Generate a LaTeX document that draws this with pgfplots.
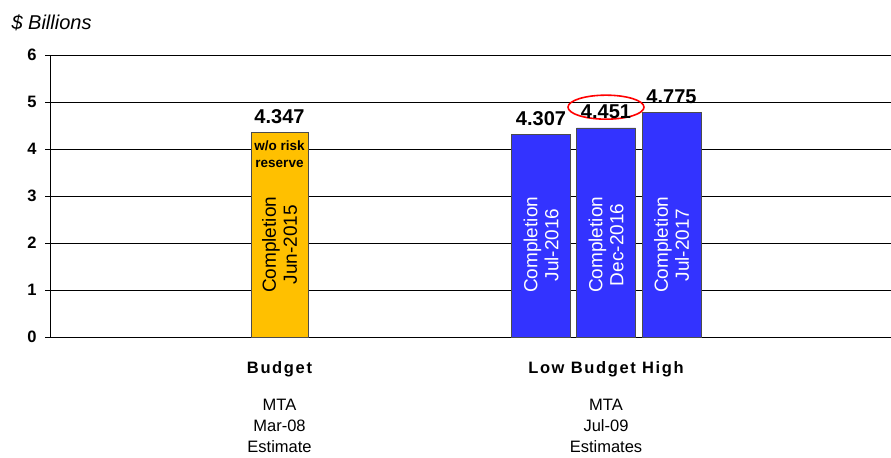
\documentclass[border=0pt]{standalone}
\usepackage{pgfplots}
\pgfplotsset{compat=1.18}
\usepackage{fontspec}
\setmainfont{Liberation Sans}
\definecolor{barorange}{HTML}{FFC000}
\definecolor{barblue}{HTML}{3333FF}
\begin{document}
\begin{tikzpicture}
\path[use as bounding box] (0,0) rectangle (891bp,458bp);
\begin{axis}[
 at={(50bp,121bp)}, anchor=south west,
 scale only axis, width=841bp, height=282bp,
 xmin=0, xmax=841, ymin=0, ymax=6,
 axis x line=bottom, axis y line=left,
 axis line style={-, black, line width=0.9bp},
 ytick={0,1,2,3,4,5,6}, ymajorgrids, grid style={black, line width=0.7bp},
 tick align=outside, major tick length=5bp,
 ytick style={black, line width=0.7bp},
 y tick label style={font=\fontsize{16.5bp}{18bp}\selectfont\bfseries, xshift=-5bp},
 /pgf/number format/assume math mode=true,
 xtick={229.5,556},
 xticklabels={{\bfseries\addfontfeature{LetterSpace=10}Budget\\[16bp]MTA\\Mar-08\\Estimate},
              {\bfseries\addfontfeature{LetterSpace=10}Low Budget High\\[16bp]MTA\\Jul-09\\Estimates}},
 x tick label style={align=center, font=\fontsize{16.5bp}{21bp}\selectfont, yshift=-16bp},
 xtick style={draw=none},
 ybar, bar shift=0pt,
 clip=false,
 nodes near coords={\pgfmathprintnumber[fixed,fixed zerofill,precision=3]{\pgfplotspointmeta}},
 nodes near coords style={font=\fontsize{20bp}{21bp}\selectfont\bfseries, black, inner sep=5bp, yshift=4bp},
]
\addplot[fill=barorange, draw=black!70, line width=0.6bp, bar width=57] coordinates {(229.5,4.347)};
\addplot[fill=barblue, draw=black!70, line width=0.6bp, bar width=59] coordinates {(491,4.307) (556,4.451) (621.5,4.775)};
\node[rotate=90, align=center, font=\fontsize{19bp}{21bp}\selectfont] at (axis cs:229.5,1.96) {Completion\\Jun-2015};
\node[align=center, font=\fontsize{13.5bp}{17bp}\selectfont\bfseries] at (axis cs:229.5,3.9) {w/o risk\\reserve};
\node[rotate=90, align=center, white, font=\fontsize{19bp}{21bp}\selectfont] at (axis cs:491,1.96) {Completion\\Jul-2016};
\node[rotate=90, align=center, white, font=\fontsize{19bp}{21bp}\selectfont] at (axis cs:556,1.96) {Completion\\Dec-2016};
\node[rotate=90, align=center, white, font=\fontsize{19bp}{21bp}\selectfont] at (axis cs:621.5,1.96) {Completion\\Jul-2017};
\draw[red, line width=1.6bp] (axis cs:556,4.89) ellipse [x radius=38bp, y radius=12bp];
\end{axis}
\node[anchor=base west, font=\fontsize{20bp}{21bp}\selectfont\itshape] at (8bp,428bp) {\$ Billions};
\end{tikzpicture}
\end{document}
